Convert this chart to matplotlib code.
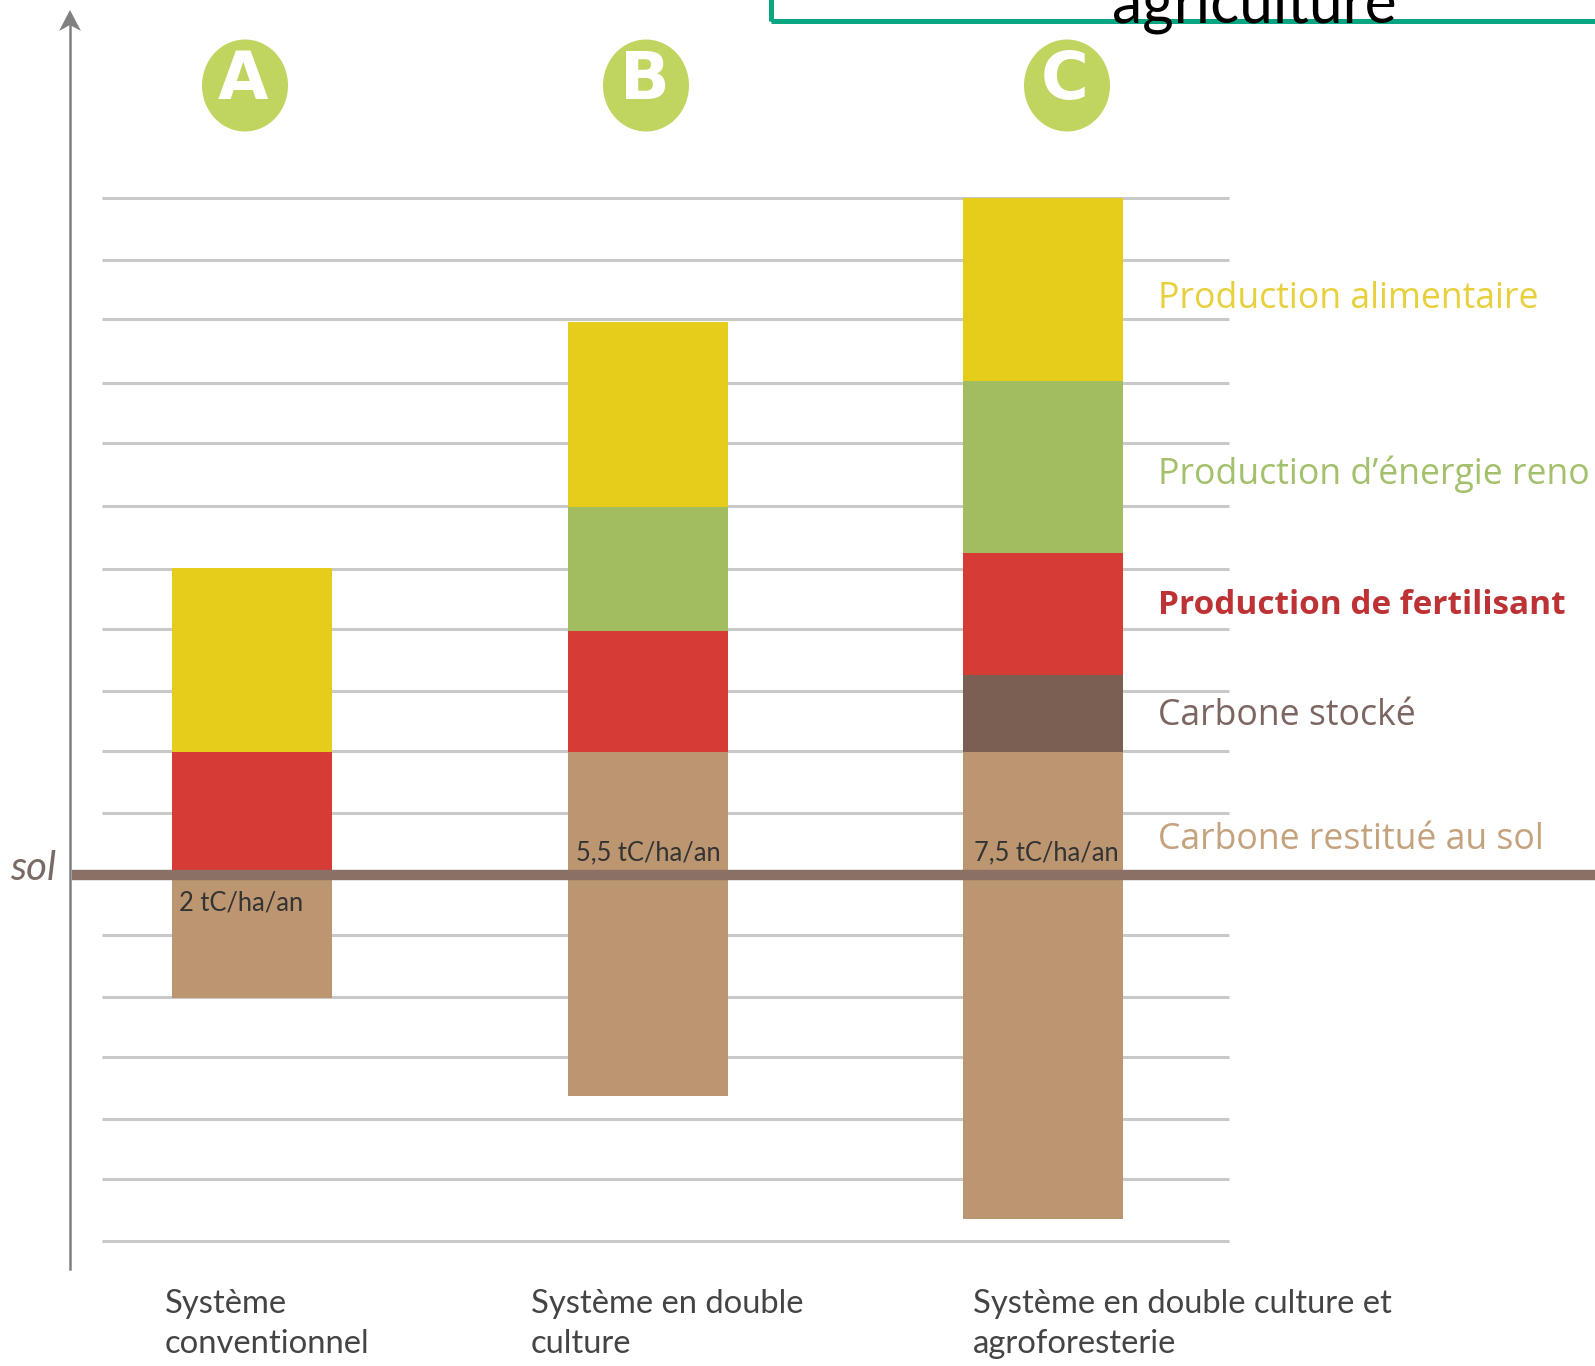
import matplotlib
matplotlib.use("Agg")
import matplotlib.pyplot as plt
from matplotlib.patches import Ellipse, Rectangle

W, H = 1595, 1366
Y0_PX, UNIT_PX = 875.0, 61.4

systems = ["A", "B", "C"]
system_labels = ["Système\nconventionnel", "Système en double\nculture", "Système en double culture et\nagroforesterie"]
restitue_below = [2.0, 3.6, 5.6]
restitue_above = [0.0, 2.0, 2.0]
stocke = [0.0, 0.0, 1.25]
fertilisant = [2.0, 1.97, 2.0]
energie = [0.0, 2.03, 2.8]
alimentaire = [3.0, 3.0, 2.98]
carbon_labels = ["2 tC/ha/an", "5,5 tC/ha/an", "7,5 tC/ha/an"]
legend_labels = ["Production alimentaire", "Production d’énergie reno", "Production de fertilisant",
                 "Carbone stocké", "Carbone restitué au sol"]
grid_levels = [-5.96, -4.95, -3.98, -2.97, -1.99, -0.98, 1.01, 2.02, 3.0, 4.01, 4.99, 6.01, 7.04, 8.02, 9.05, 10.02, 11.03]

YELLOW, GREEN, RED, DARK, TAN = "#e6cd1b", "#a2bd5f", "#d63c35", "#7a5f52", "#bc9670"
legend_colors = ["#e8d03c", "#a3c06c", "#bd3234", "#7d6661", "#c4a27e"]

bar_x = [252, 647.5, 1043]
badge_x = [245, 646, 1067]
letter_x = [243, 645, 1065]
bar_w = 160


def py(p):
    return (Y0_PX - p) / UNIT_PX


plt.rcParams["font.family"] = ["Lato", "DejaVu Sans"]
fig = plt.figure(figsize=(W / 100, H / 100), dpi=100, facecolor="white")
ax = fig.add_axes([0, 0, 1, 1])
ax.set_xlim(0, W)
ax.set_ylim(py(H), py(0))
ax.axis("off")

ax.hlines(grid_levels, 102, 1229, color="#c9c9c9", lw=2.2, zorder=1)

bottom = [-v for v in restitue_below]
for vals, col in [(restitue_below, TAN), (restitue_above, TAN), (stocke, DARK),
                  (fertilisant, RED), (energie, GREEN), (alimentaire, YELLOW)]:
    ax.bar(bar_x, vals, width=bar_w, bottom=bottom, color=col, lw=0, zorder=2)
    bottom = [b + v for b, v in zip(bottom, vals)]

ax.hlines(0, 72, W, color="#8b7065", lw=7.5, zorder=3)

# thin vertical axis with a small notched arrow head
ax.plot([70, 70], [py(1269), py(20)], color="#808080", lw=1.8, zorder=4)
ax.fill([70, 59, 70, 81], [py(10), py(31), py(25), py(31)], color="#808080", lw=0, zorder=4)
ax.text(10, py(868), "sol", fontsize=29, style="italic", color="#7a6a66", va="center", ha="left")

for x, lx, s in zip(badge_x, letter_x, systems):
    ax.add_patch(Ellipse((x, py(85.5)), 86, 92 / UNIT_PX, fc="#bfd55f", ec="none", zorder=4))
    ax.text(lx, py(81), s, fontsize=47, weight="bold", family="DejaVu Sans", color="white",
            ha="center", va="center", zorder=5)

for x, yp, s in zip([179, 576, 974], [903, 853, 853], carbon_labels):
    ax.text(x, py(yp), s, fontsize=18.4, color="#333333", ha="left", va="center", zorder=5)

for x, s in zip([165, 531, 973], system_labels):
    ax.text(x, py(1324), s, fontsize=23.6, color="#444444", ha="left", va="center", linespacing=1.42)

for yp, s, c in zip([299, 474, 605, 716, 840], legend_labels, legend_colors):
    bold = "fertilisant" in s
    ax.text(1158, py(yp), s, fontsize=24 if bold else 25.7, family="Open Sans", color=c,
            ha="left", va="center", zorder=5, weight="bold" if bold else "normal")

ax.add_patch(Rectangle((771, py(21)), W, 30, fc="none", ec="#0aa583", lw=3.6, zorder=5))
ax.text(1112, py(23), "agriculture", fontsize=43.7, color="black", ha="left", va="baseline", zorder=6)

fig.savefig("out.png", dpi=100)
